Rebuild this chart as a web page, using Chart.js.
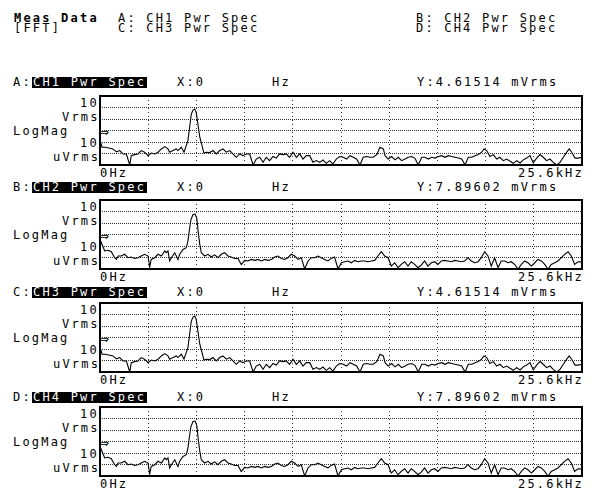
<!DOCTYPE html>
<html>
<head>
<meta charset="utf-8">
<script src="https://cdn.jsdelivr.net/npm/chart.js@4.4.1/dist/chart.umd.min.js"></script>
<style>
  body { margin: 0; background: #fff; width: 592px; height: 491px; position: relative; overflow: hidden;
         font-family: "DejaVu Sans Mono", monospace; font-size: 12px; letter-spacing: 2.2px; color: #000; }
  .t { position: absolute; line-height: 12px; white-space: pre; }
  .inv { position: absolute; height: 11px; line-height: 11px; background: #000; color: #fff; white-space: pre; padding-left: 1px; }
  .mark { position: absolute; font-family: "DejaVu Sans", sans-serif; font-size: 12px; line-height: 12px; letter-spacing: 0; }
  canvas { position: absolute; }
</style>
</head>
<body>
<div class="t" style="left:14px;top:12px;font-weight:bold">Meas Data</div>
<div class="t" style="left:14px;top:22px">[FFT]</div>
<div class="t" style="left:118px;top:12px">A: CH1 Pwr Spec</div>
<div class="t" style="left:118px;top:22px">C: CH3 Pwr Spec</div>
<div class="t" style="left:416px;top:12px">B: CH2 Pwr Spec</div>
<div class="t" style="left:416px;top:22px">D: CH4 Pwr Spec</div>
<div id="panels"></div>
<script>
// frequency in kHz, magnitude in Vrms
const freqA = [0, 0.11, 0.28, 0.52, 0.69, 0.87, 1.05, 1.22, 1.40, 1.58,
  1.66, 1.84, 2.02, 2.19, 2.37, 2.55, 2.72, 2.91, 3.08, 3.26,
  3.44, 3.61, 3.70, 3.88, 4.05, 4.14, 4.32, 4.46, 4.58, 4.67,
  4.76, 4.85, 4.94, 5.03, 5.11, 5.20, 5.30, 5.42, 5.52, 5.65,
  5.83, 6.00, 6.18, 6.36, 6.53, 6.71, 6.89, 7.06, 7.24, 7.42,
  7.59, 7.77, 7.95, 8.13, 8.30, 8.48, 8.66, 8.83, 9.01, 9.19,
  9.36, 9.54, 9.72, 9.89, 10.07, 10.25, 10.43, 10.61, 10.78, 10.96,
  11.14, 11.31, 11.49, 11.67, 11.84, 12.02, 12.20, 12.37, 12.55, 12.73,
  12.92, 13.10, 13.28, 13.45, 13.63, 13.81, 13.98, 14.16, 14.34, 14.51,
  14.70, 14.87, 15.05, 15.14, 15.31, 15.49, 15.67, 15.84, 16.02, 16.20,
  16.37, 16.55, 16.73, 16.90, 17.09, 17.26, 17.44, 17.62, 17.79, 17.97,
  18.15, 18.32, 18.50, 18.68, 18.85, 19.03, 19.21, 19.39, 19.56, 19.74,
  19.92, 20.09, 20.27, 20.39, 20.54, 20.71, 20.89, 21.07, 21.24, 21.42,
  21.60, 21.78, 21.95, 22.13, 22.31, 22.48, 22.66, 22.84, 23.01, 23.19,
  23.37, 23.54, 23.72, 23.90, 24.07, 24.26, 24.43, 24.61, 24.79, 24.92,
  25.05, 25.23, 25.40, 25.60];
const magA = [1.5e-3, 3.5e-4, 3.5e-4, 2.9e-4, 2.5e-4, 1.4e-4, 1.8e-4, 9.1e-5, 9.1e-5, 1.0e-5,
  6.5e-5, 8.0e-5, 9.1e-5, 1.8e-4, 1.3e-4, 6.5e-5, 1.1e-4, 9.1e-5, 1.3e-4, 2.5e-4,
  4.0e-4, 2.5e-4, 1.3e-4, 1.8e-4, 2.5e-4, 1.8e-4, 3.5e-4, 1.3e-4, 4.8e-4, 1.3e-3,
  1.9e-2, 0.27, 0.6, 0.74, 0.38, 3.7e-2, 2.6e-3, 4.8e-4, 1.1e-4, 1.3e-4,
  1.2e-4, 1.8e-4, 9.1e-5, 1.8e-4, 2.5e-4, 1.3e-4, 1.8e-4, 9.1e-5, 4.7e-5, 9.1e-5,
  6.5e-5, 9.1e-5, 9.1e-5, 1.0e-5, 3.3e-5, 4.7e-5, 1.7e-5, 4.7e-5, 2.4e-5, 5.5e-5,
  4.0e-5, 9.1e-5, 8.0e-5, 9.1e-5, 4.7e-5, 1.3e-4, 4.7e-5, 9.1e-5, 3.3e-5, 6.5e-5,
  6.5e-5, 1.7e-5, 2.4e-5, 1.7e-5, 2.7e-5, 1.4e-5, 2.4e-5, 1.2e-5, 3.3e-5, 5.5e-5,
  4.7e-5, 3.3e-5, 6.5e-5, 4.7e-5, 3.3e-5, 1.0e-5, 4.7e-5, 5.5e-5, 4.7e-5, 4.7e-5,
  8.0e-5, 3.5e-4, 2.5e-4, 6.5e-5, 3.3e-5, 5.5e-5, 2.8e-5, 4.7e-5, 2.4e-5, 3.3e-5,
  4.7e-5, 5.5e-5, 3.8e-5, 1.0e-5, 4.7e-5, 4.7e-5, 3.3e-5, 4.7e-5, 4.0e-5, 5.5e-5,
  6.5e-5, 4.7e-5, 6.5e-5, 5.5e-5, 4.7e-5, 4.0e-5, 3.3e-5, 1.0e-5, 4.7e-5, 4.7e-5,
  6.5e-5, 8.0e-5, 1.3e-4, 2.5e-4, 1.8e-4, 5.5e-5, 8.0e-5, 3.3e-5, 4.7e-5, 2.4e-5,
  3.3e-5, 2.1e-5, 1.4e-5, 2.4e-5, 1.5e-5, 2.8e-5, 4.0e-5, 6.5e-5, 1.5e-5, 4.0e-5,
  8.0e-5, 4.7e-5, 2.4e-5, 3.3e-5, 1.7e-5, 1.0e-5, 1.7e-5, 4.7e-5, 1.3e-4, 2.5e-4,
  1.3e-4, 4.0e-5, 4.0e-5, 4.7e-5];

const freqB = [0, 0.25, 0.42, 0.60, 0.78, 0.87, 0.96, 1.13, 1.31, 1.49,
  1.66, 1.84, 2.02, 2.19, 2.37, 2.55, 2.64, 2.72, 2.91, 3.08,
  3.26, 3.44, 3.52, 3.61, 3.70, 3.79, 3.97, 4.14, 4.23, 4.41,
  4.58, 4.67, 4.74, 4.83, 4.94, 5.05, 5.14, 5.22, 5.30, 5.38,
  5.56, 5.74, 5.91, 6.09, 6.27, 6.44, 6.62, 6.80, 6.97, 7.15,
  7.33, 7.50, 7.69, 7.86, 8.04, 8.22, 8.39, 8.57, 8.75, 8.92,
  9.10, 9.28, 9.45, 9.63, 9.81, 9.98, 10.16, 10.34, 10.52, 10.69,
  10.87, 11.05, 11.22, 11.40, 11.58, 11.75, 11.93, 12.11, 12.28, 12.46,
  12.64, 12.82, 13.00, 13.17, 13.35, 13.53, 13.70, 13.88, 14.06, 14.23,
  14.41, 14.59, 14.76, 14.94, 15.12, 15.30, 15.47, 15.65, 15.83, 16.00,
  16.18, 16.36, 16.53, 16.71, 16.89, 17.06, 17.24, 17.42, 17.60, 17.78,
  17.95, 18.13, 18.31, 18.48, 18.66, 18.84, 19.01, 19.19, 19.37, 19.54,
  19.72, 19.90, 20.08, 20.25, 20.43, 20.61, 20.78, 20.96, 21.14, 21.31,
  21.49, 21.67, 21.84, 22.02, 22.20, 22.38, 22.56, 22.73, 22.91, 23.09,
  23.26, 23.44, 23.62, 23.79, 23.97, 24.15, 24.32, 24.50, 24.68, 24.86,
  25.03, 25.21, 25.39, 25.60];
const magB = [3.7e-3, 3.7e-4, 4.2e-4, 3.2e-4, 9.6e-5, 6.8e-5, 1.35e-4, 1.35e-4, 1.9e-4, 9.6e-5,
  1.1e-4, 8.3e-5, 9.6e-5, 1.35e-4, 1.9e-4, 1.35e-4, 1.5e-5, 6.8e-5, 9.6e-5, 1.9e-4,
  1.35e-4, 3.7e-4, 2.6e-4, 3.7e-4, 5.0e-5, 9.6e-5, 2.6e-4, 6.8e-5, 1.9e-4, 5.0e-4,
  7.1e-4, 2.7e-3, 2.0e-2, 0.2, 0.55, 0.6, 0.25, 1.5e-2, 1.4e-3, 2.6e-4,
  1.35e-4, 1.9e-4, 1.1e-4, 1.7e-4, 9.6e-5, 1.9e-4, 2.6e-4, 1.35e-4, 1.1e-4, 8.3e-5,
  8.3e-5, 2.5e-5, 5.6e-5, 5.0e-5, 6.8e-5, 5.6e-5, 6.8e-5, 5.0e-5, 6.8e-5, 5.6e-5,
  6.8e-5, 1.1e-4, 1.35e-4, 8.3e-5, 6.8e-5, 9.6e-5, 1.9e-4, 1.35e-4, 6.8e-5, 9.6e-5,
  1.0e-5, 5.0e-5, 9.6e-5, 9.6e-5, 1.35e-4, 9.6e-5, 6.8e-5, 5.0e-5, 8.3e-5, 1.1e-4,
  1.0e-5, 3.5e-5, 4.3e-5, 5.0e-5, 3.5e-5, 5.6e-5, 4.3e-5, 5.0e-5, 5.0e-5, 4.3e-5,
  5.0e-5, 5.6e-5, 1.35e-4, 3.2e-4, 1.35e-4, 9.6e-5, 1.8e-5, 3.5e-5, 1.3e-5, 2.5e-5,
  4.3e-5, 1.8e-5, 4.3e-5, 2.5e-5, 1.3e-5, 2.2e-5, 5.0e-5, 1.8e-5, 3.5e-5, 4.3e-5,
  2.5e-5, 5.0e-5, 5.6e-5, 5.0e-5, 4.3e-5, 5.6e-5, 5.0e-5, 4.3e-5, 5.0e-5, 9.6e-5,
  5.0e-5, 3.5e-5, 4.3e-5, 9.6e-5, 3.2e-4, 1.35e-4, 1.8e-5, 9.6e-5, 1.3e-5, 5.0e-5,
  5.0e-5, 3.5e-5, 4.3e-5, 2.5e-5, 1.0e-5, 2.5e-5, 5.0e-5, 3.5e-5, 1.8e-5, 3.5e-5,
  6.8e-5, 5.0e-5, 2.5e-5, 1.0e-5, 2.5e-5, 3.5e-5, 5.0e-5, 9.6e-5, 1.9e-4, 3.2e-4,
  1.35e-4, 2.5e-5, 4.3e-5, 4.0e-5];

// panels
const panelIds = ['A', 'B', 'C', 'D'];
const panelNames = ['CH1 Pwr Spec', 'CH2 Pwr Spec', 'CH3 Pwr Spec', 'CH4 Pwr Spec'];
const readouts = ['4.61514 mVrms', '7.89602 mVrms', '4.61514 mVrms', '7.89602 mVrms'];
const plotTops = [96, 200, 303, 407];
const headerTops = [76, 181, 286, 391];

// axis ticks (kHz, Vrms)
const xTicks = [0, 2.56, 5.12, 7.68, 10.24, 12.8, 15.36, 17.92, 20.48, 23.04, 25.6];
const yTicks = [1e-5, 1e-4, 1e-3, 1e-2, 1e-1, 1, 10];

const traces = [[freqA, magA], [freqB, magB], [freqA, magA], [freqB, magB]];

// draws the solid frame around the plot area
const frame = {
  id: 'frame',
  afterDraw(chart) {
    const { ctx, chartArea: a } = chart;
    ctx.save();
    ctx.strokeStyle = '#000';
    ctx.lineWidth = 2;
    ctx.strokeRect(a.left, a.top, a.right - a.left, a.bottom - a.top);
    ctx.restore();
  }
};

const holder = document.getElementById('panels');
function addText(cls, txt, left, top) {
  const d = document.createElement('div');
  d.className = cls;
  d.textContent = txt;
  d.style.left = left + 'px';
  d.style.top = top + 'px';
  holder.appendChild(d);
  return d;
}

panelIds.forEach(function (id, i) {
  const t = plotTops[i], h = headerTops[i];
  addText('t', id + ':', 13, h);
  const box = addText('inv', panelNames[i], 32, h + 1);
  box.style.width = '114px';
  addText('t', 'X:0', 177, h);
  addText('t', 'Hz', 272, h);
  addText('t', 'Y:' + readouts[i], 417, h);
  addText('t', '10', 80, t + 0.5);
  addText('t', 'Vrms', 62, t + 14.5);
  addText('t', 'LogMag', 13, t + 28.5);
  addText('t', '10', 80, t + 41);
  addText('t', 'uVrms', 53, t + 55);
  addText('t', '0Hz', 100, t + 70.5);
  addText('t', '25.6kHz', 518, t + 70.5);
  addText('mark', '\u21D2', 99, t + 30);

  const cv = document.createElement('canvas');
  cv.width = 498;
  cv.height = 85;
  cv.style.left = '92px';
  cv.style.top = (t - 8) + 'px';
  holder.appendChild(cv);

  const f = traces[i][0], m = traces[i][1];
  new Chart(cv.getContext('2d'), {
    type: 'line',
    data: {
      datasets: [{
        data: f.map(function (x, k) { return { x: x, y: m[k] }; }),
        borderColor: '#000',
        borderWidth: 1.1,
        pointRadius: 0,
        tension: 0,
        fill: false
      }]
    },
    options: {
      responsive: false,
      animation: false,
      events: [],
      layout: { padding: 8 },
      plugins: { legend: { display: false }, tooltip: { enabled: false } },
      scales: {
        x: {
          type: 'linear', min: 0, max: 25.6,
          afterBuildTicks: function (s) { s.ticks = xTicks.map(function (v) { return { value: v }; }); },
          ticks: { display: false },
          grid: { color: '#333', lineWidth: 1, drawTicks: false },
          border: { display: false, dash: [1, 3] }
        },
        y: {
          type: 'logarithmic', min: 1e-5, max: 10,
          afterBuildTicks: function (s) { s.ticks = yTicks.map(function (v) { return { value: v }; }); },
          ticks: { display: false },
          grid: { color: '#333', lineWidth: 1, drawTicks: false },
          border: { display: false, dash: [1, 1] }
        }
      }
    },
    plugins: [frame]
  });
});
</script>
</body>
</html>
